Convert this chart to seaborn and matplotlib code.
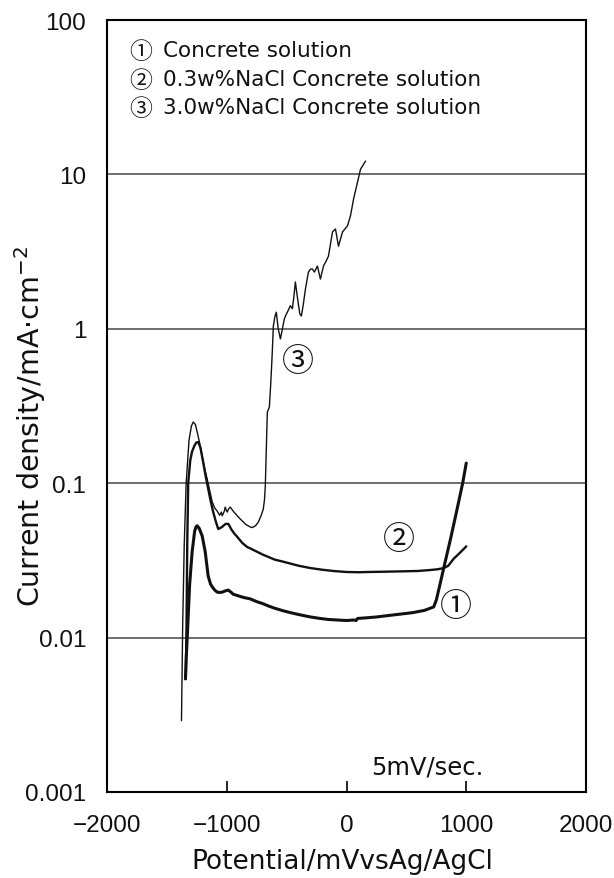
import numpy as np
import pandas as pd
import matplotlib
matplotlib.use("Agg")
import matplotlib.pyplot as plt
from matplotlib.ticker import NullLocator, FixedLocator
import seaborn as sns

# ---------------- data ----------------
# curve 1: Concrete solution (thick line)
pot1 = [-1345, -1338, -1330, -1310, -1289, -1268, -1255, -1247, -1230, -1205, -1180,
        -1155, -1135, -1121, -1100, -1080, -1060, -1038, -1010, -987, -965, -946,
        -900, -860, -803, -750, -700, -650, -600, -527, -450, -380, -300, -220,
        -150, -75, 0, 60, 80, 92, 150, 250, 350, 452, 550, 650, 728, 750, 780,
        820, 870, 920, 970, 1000]
cur1 = [0.0054, 0.0075, 0.010, 0.022, 0.036, 0.049, 0.0525, 0.053, 0.051, 0.0455, 0.036,
        0.025, 0.0222, 0.0213, 0.0203, 0.0197, 0.0196, 0.0197, 0.0201, 0.0203, 0.0197, 0.0191,
        0.0186, 0.0182, 0.0178, 0.0171, 0.0166, 0.0160, 0.0155, 0.0149, 0.0144, 0.0140, 0.0136, 0.0133,
        0.0131, 0.0130, 0.0129, 0.0130, 0.0129, 0.0133, 0.0134, 0.0136, 0.0139, 0.0142, 0.0145, 0.0150,
        0.0158, 0.0175, 0.022, 0.030, 0.044, 0.066, 0.100, 0.135]

# curve 2: 0.3w%NaCl Concrete solution (medium line)
pot2 = [-1342, -1336, -1330, -1322, -1305, -1290, -1270, -1255, -1238, -1220, -1197,
        -1175, -1155, -1135, -1113, -1090, -1071, -1040, -1010, -987, -960, -935,
        -912, -870, -829, -803, -700, -600, -527, -400, -300, -200, -109, 0, 100,
        176, 300, 400, 500, 594, 700, 760, 812, 850, 895, 940, 979, 1000]
cur2 = [0.0054, 0.012, 0.04, 0.10, 0.14, 0.16, 0.175, 0.183, 0.185, 0.17, 0.137,
        0.11, 0.092, 0.077, 0.065, 0.056, 0.0505, 0.052, 0.0545, 0.0545, 0.050, 0.047,
        0.0449, 0.041, 0.0386, 0.0378, 0.0345, 0.032, 0.031, 0.0292, 0.0282, 0.0275, 0.027, 0.0266, 0.0265,
        0.0266, 0.0267, 0.0268, 0.0269, 0.027, 0.0274, 0.0277, 0.0282, 0.0292, 0.0324, 0.035, 0.0375, 0.039]

# curve 3: 3.0w%NaCl Concrete solution (thin line)
pot3 = [-1378, -1368, -1355, -1339, -1315, -1295, -1280, -1262, -1247, -1225, -1205,
        -1185, -1163, -1140, -1121, -1100, -1080, -1060, -1045, -1038, -1020, -1013,
        -1004, -996, -985, -971, -940, -887, -840, -803, -787, -760, -736, -712,
        -695, -685, -678, -669, -661, -652, -644, -632, -620, -611, -598, -586,
        -570, -552, -535, -520, -510, -490, -469, -452, -440, -427, -410, -390,
        -377, -360, -343, -318, -300, -285, -268, -243, -218, -192, -170, -151,
        -117, -92, -67, -33, 8, 33, 59, 92, 117, 159]
cur3 = [0.0029, 0.012, 0.04, 0.10, 0.19, 0.235, 0.249, 0.24, 0.215, 0.18, 0.15,
        0.125, 0.106, 0.088, 0.0755, 0.069, 0.066, 0.062, 0.065, 0.0615, 0.066, 0.070,
        0.067, 0.065, 0.068, 0.070, 0.065, 0.0586, 0.054, 0.052, 0.0516, 0.053, 0.056, 0.062,
        0.068, 0.078, 0.096, 0.174, 0.289, 0.30, 0.312, 0.45, 0.70, 1.04, 1.2, 1.28,
        1.0, 0.86, 1.0, 1.15, 1.21, 1.3, 1.41, 1.35, 1.6, 2.01, 1.6, 1.25,
        1.21, 1.45, 1.81, 2.33, 2.44, 2.44, 2.33, 2.55, 2.10, 2.55, 2.75, 2.95,
        4.24, 4.43, 3.43, 4.24, 4.64, 5.38, 6.92, 8.9, 10.8, 12.2]

legend_marks = ["\u2460", "\u2461", "\u2462"]
legend_texts = ["Concrete solution",
                "0.3w%NaCl Concrete solution",
                "3.0w%NaCl Concrete solution"]
xtick_vals = [-2000, -1000, 0, 1000, 2000]
xtick_labels = ["\u22122000", "\u22121000", "0", "1000", "2000"]
ytick_vals = [0.001, 0.01, 0.1, 1, 10, 100]
ytick_labels = ["0.001", "0.01", "0.1", "1", "10", "100"]

# ---------------- figure ----------------
sns.set_theme(style="white")
SANS = ['DejaVu Sans', 'Noto Sans CJK JP']
plt.rcParams['font.family'] = SANS
TICKF = ['Liberation Sans', 'DejaVu Sans']
CJK = ['Noto Sans CJK JP', 'DejaVu Sans']
INK = "#111111"

W, H = 614, 879
fig = plt.figure(figsize=(W / 100, H / 100), dpi=100)
L, R, T, B = 107, 586, 21, 793
ax = fig.add_axes([L / W, 1 - B / H, (R - L) / W, (B - T) / H])

for pot, cur, lw in [(pot1, cur1, 2.2), (pot2, cur2, 1.7), (pot3, cur3, 1.0)]:
    df = pd.DataFrame({"pot": pot, "cur": cur})
    sns.lineplot(data=df, x="pot", y="cur", ax=ax, color=INK, lw=lw,
                 sort=False, estimator=None, zorder=3)

ax.set_yscale("log")
ax.set_xlim(-2000, 2000)
ax.set_ylim(0.001, 100)
ax.set_xlabel("")
ax.set_ylabel("")

ax.xaxis.set_major_locator(FixedLocator(xtick_vals))
ax.set_xticklabels(xtick_labels, family=TICKF, fontsize=17.5, color=INK)
ax.yaxis.set_major_locator(FixedLocator(ytick_vals))
ax.yaxis.set_minor_locator(NullLocator())
ax.set_yticklabels(ytick_labels, family=TICKF, fontsize=17.5, color=INK)
ax.tick_params(axis="x", direction="in", length=8, width=1.2, color="black",
               pad=16, bottom=True)
ax.tick_params(axis="y", length=0, pad=15)

for yv in [0.01, 0.1, 1, 10]:
    ax.axhline(yv, color="#555555", lw=1.2, zorder=1)

for s in ax.spines.values():
    s.set_visible(True)
    s.set_color("black")
    s.set_linewidth(1.5)

# legend-like text block (circled digit + text)
for i in range(3):
    yb = [57, 86, 114][i]
    ax.text((129 - L) / (R - L), (B - yb - 2) / (B - T), legend_marks[i],
            transform=ax.transAxes, ha="left", va="baseline", fontsize=16.5,
            color=INK, family=CJK)
    ax.text((163 - L) / (R - L), (B - yb) / (B - T), legend_texts[i],
            transform=ax.transAxes, ha="left", va="baseline", fontsize=15.5,
            color=INK, family=SANS)

# curve annotations
for xv, yv, s in [(912, 0.016, "\u2460"), (435, 0.0435, "\u2461"), (-402, 0.618, "\u2462")]:
    ax.text(xv, yv, s, ha="center", va="center", fontsize=23, color=INK, family=CJK)
ax.text(678, 0.00147, "5mV/sec.", ha="center", va="center", fontsize=17.5, color=INK,
        family=SANS)

fig.text(342 / W, 1 - 869 / H, "Potential/mVvsAg/AgCl", ha="center", va="baseline",
         fontsize=19, color=INK, family=SANS)
fig.text(30 / W, 1 - 427 / H, "Current density/mA\u00b7cm$^{-2}$", ha="center", va="center",
         rotation=90, fontsize=20.5, color=INK, family="DejaVu Sans")

fig.savefig("out.png", dpi=100)
